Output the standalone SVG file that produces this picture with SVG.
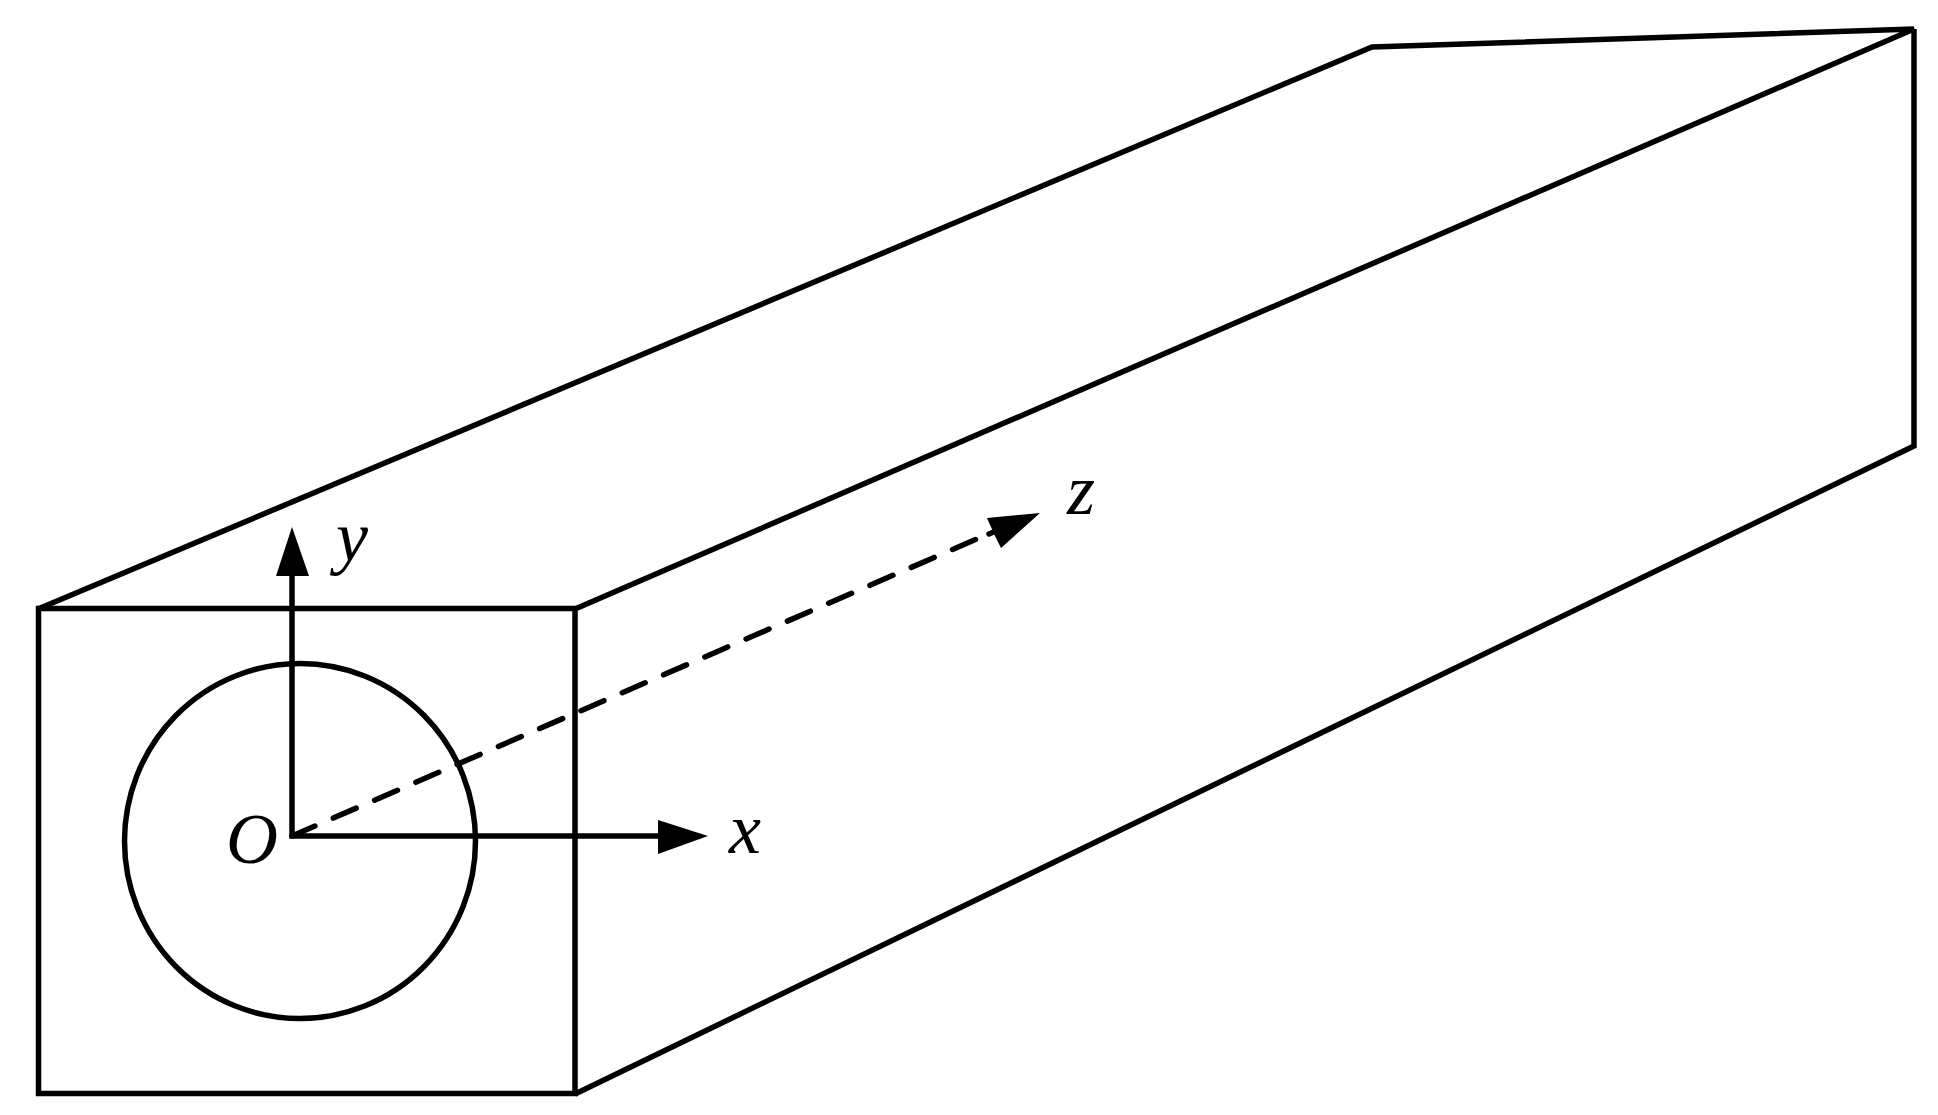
<svg xmlns="http://www.w3.org/2000/svg" width="1938" height="1115" viewBox="0 0 1938 1115">
<style>
.l{fill:none;stroke:#000;stroke-width:5.500;stroke-linejoin:miter;stroke-linecap:butt}
.h{fill:#000;stroke:none}
.t{font-family:"Liberation Serif","Times New Roman",serif;font-style:italic;font-size:72px;fill:#000}
</style>
<rect width="1938" height="1115" fill="#fff"/>
<g id="prism">
<rect class="l" x="38.500" y="608.500" width="536.500" height="485"/>
<path class="l" d="M38 609L1372 47L1914 29L575 609M1914 29V446L575 1094"/>
</g>
<g id="bore"><ellipse class="l" cx="300" cy="841" rx="175.500" ry="177.500"/></g>
<g id="connectors">
<path class="l" d="M292 576V836H660"/>
<polygon class="h" points="292,527 309,576 276,576"/>
<polygon class="h" points="708,836 658,820 658,854"/>
<path class="l" d="M292 836L982 536.700" stroke-dasharray="25 20" style="stroke-linecap:round"/>
<path class="l" d="M989 534L996 531" style="stroke-linecap:round"/>
<polygon class="h" points="1040,513 987,518 995,536 1001,548"/>
</g>
<g id="labels">
<text class="t" x="226" y="863">O</text>
<text class="t" x="729" y="853">x</text>
<text class="t" x="336" y="561">y</text>
<text class="t" x="1067" y="514">z</text>
</g>
</svg>
